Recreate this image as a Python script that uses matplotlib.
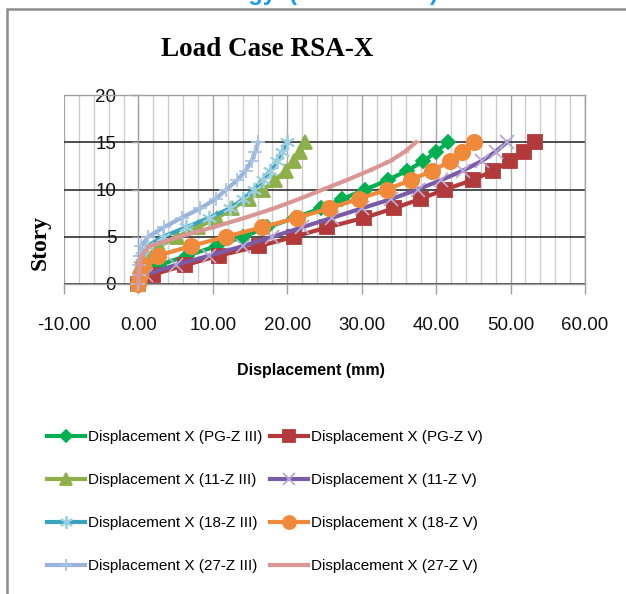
import matplotlib
matplotlib.use("Agg")
import matplotlib.pyplot as plt
from matplotlib import font_manager
from matplotlib.patches import Rectangle
from matplotlib.ticker import MultipleLocator

# Story levels and displacement (mm)
stories = list(range(16))
pg_z3 = [0, 0.8, 2.8, 6.5, 10.5, 14.0, 17.3, 21.0, 24.5, 27.4, 30.5, 33.5, 36.1, 38.3, 40.0, 41.6]
pg_z5 = [0, 2.0, 6.3, 10.8, 16.2, 20.9, 25.4, 30.3, 34.3, 37.9, 41.2, 44.9, 47.7, 49.9, 51.8, 53.3]
s11_z3 = [0, 0.2, 0.5, 1.2, 2.8, 5.2, 8.0, 10.6, 12.6, 14.8, 16.8, 18.4, 19.8, 20.9, 21.7, 22.4]
s11_z5 = [0, 1.0, 5.0, 9.5, 14.0, 18.0, 22.0, 26.0, 30.0, 34.0, 37.5, 40.7, 43.6, 46.1, 48.0, 49.5]
s18_z3 = [0, 0.1, 0.2, 0.5, 1.2, 3.3, 6.4, 9.5, 12.3, 14.1, 15.5, 16.7, 17.7, 18.6, 19.3, 19.9]
s18_z5 = [0, 0.2, 0.6, 2.6, 7.0, 11.7, 16.6, 21.3, 25.6, 29.6, 33.4, 36.6, 39.5, 41.9, 43.5, 45.1]
s27_z3 = [0, 0.05, 0.1, 0.2, 0.4, 1.3, 3.4, 5.8, 8.3, 10.4, 11.8, 13.3, 14.4, 15.2, 15.7, 16.1]
s27_z5 = [0, 0.1, 0.2, 0.4, 1.5, 5.5, 10.0, 14.3, 18.2, 21.6, 24.8, 28.0, 31.0, 33.8, 35.8, 37.3]

labels = ["Displacement X (PG-Z III)", "Displacement X (PG-Z V)",
          "Displacement X (11-Z III)", "Displacement X (11-Z V)",
          "Displacement X (18-Z III)", "Displacement X (18-Z V)",
          "Displacement X (27-Z III)", "Displacement X (27-Z V)"]
x_ticks = [-10, 0, 10, 20, 30, 40, 50, 60]
y_ticks = [0, 5, 10, 15, 20]

# fonts: a narrow face for the legend if there is one
names = {f.name for f in font_manager.fontManager.ttflist}
if "Liberation Sans Narrow" in names:
    narrow, leg_size, xl_size = "Liberation Sans Narrow", 13.5, 14
else:
    narrow, leg_size, xl_size = "Liberation Sans", 11, 11.5
sans = "Liberation Sans"
serif = "Liberation Serif"

fig = plt.figure(figsize=(6.26, 5.94), dpi=100)
ax = fig.add_axes([64 / 626, 1 - 284 / 594, 521 / 626, 189 / 594])

styles = [
    (pg_z3, "#00B050", "D", 7, "#00B050"),
    (pg_z5, "#B23A3A", "s", 9.5, "#B23A3A"),
    (s11_z3, "#8DB04A", "^", 10, "#8DB04A"),
    (s11_z5, "#7A5CA6", "x", 10, "#B8A8D6"),
    (s18_z3, "#3AA3BD", (6, 2, 0), 11, "#9ACFE0"),
    (s18_z5, "#F08A3A", "o", 11, "#F08A3A"),
    (s27_z3, "#98B4DA", "+", 10, "#A9C3E6"),
    (s27_z5, "#D99694", "_", 6, "#D99694"),
]
handles = []
for (vals, col, mk, ms, mcol), lab in zip(styles, labels):
    h, = ax.plot(vals, stories, color=col, lw=3, marker=mk, ms=ms,
                 mfc=mcol, mec=mcol, mew=1.3, label=lab, clip_on=False, zorder=3)
    handles.append(h)

ax.set_xlim(-10, 60)
ax.set_ylim(0, 20)
ax.set_xticks(x_ticks)
ax.set_xticklabels([f"{v:.2f}" for v in x_ticks])
ax.xaxis.set_minor_locator(MultipleLocator(2))
ax.set_yticks(y_ticks)
ax.set_yticklabels([str(v) for v in y_ticks])

ax.set_axisbelow(True)
ax.grid(axis="x", which="minor", color="#CDCDCD", lw=1)
ax.grid(axis="x", which="major", color="#A8A8A8", lw=1)
ax.grid(axis="y", which="major", color="#303030", lw=1.2)
for gl in ax.yaxis.get_gridlines():
    y = gl.get_ydata()[0]
    if y in (0, 20):
        gl.set_visible(False)

for s in ["top", "right", "bottom"]:
    ax.spines[s].set_color("#A0A0A0")
    ax.spines[s].set_linewidth(1)
ax.spines["left"].set_position(("data", 0))
ax.spines["left"].set_color("#A0A0A0")

ax.tick_params(axis="x", which="major", length=7, width=1, color="#A0A0A0",
               pad=17, labelsize=13.5, labelcolor="#111111")
ax.tick_params(axis="x", which="minor", length=0)
ax.tick_params(axis="y", length=4, width=1, color="#A0A0A0", pad=12,
               labelsize=13.5, labelcolor="#111111")
for t in ax.get_xticklabels() + ax.get_yticklabels():
    t.set_fontfamily(sans)

fig.text(267 / 626, 1 - 49 / 594, "Load Case RSA-X", ha="center", va="center",
         fontsize=19.5, fontweight="bold", family=serif)
fig.text(40 / 626, 1 - 242 / 594, "Story", ha="center", va="center",
         rotation=90, fontsize=17, fontweight="bold", family=serif)
fig.text(311 / 626, 1 - 370 / 594, "Displacement (mm)", ha="center", va="center",
         fontsize=xl_size, fontweight="bold", family=narrow)

# cut-off heading of the page above the chart
fig.text(438 / 626, 1.0, "Methodology  (Load Cases)", ha="right", va="baseline",
         fontsize=17, fontweight="bold", family=sans, color="#1E9BEA")

# chart frame
fig.patches.append(Rectangle((7 / 626, -0.1), 1.2, 1.1 - 9 / 594, fill=False,
                             ec="#8C8C8C", lw=1.8, transform=fig.transFigure,
                             figure=fig, clip_on=False))

# legend, row-wise order as in Excel
order = [0, 2, 4, 6, 1, 3, 5, 7]
fig.legend([handles[i] for i in order], [labels[i] for i in order],
           ncol=2, loc="upper left", bbox_to_anchor=(47 / 626, 1 - 430 / 594),
           frameon=False, prop={"family": narrow, "size": leg_size},
           handlelength=2.5, handletextpad=0.2, columnspacing=0.46,
           labelspacing=1.9, borderpad=0, borderaxespad=0, markerscale=0.85)

fig.savefig("out.png", dpi=100)
